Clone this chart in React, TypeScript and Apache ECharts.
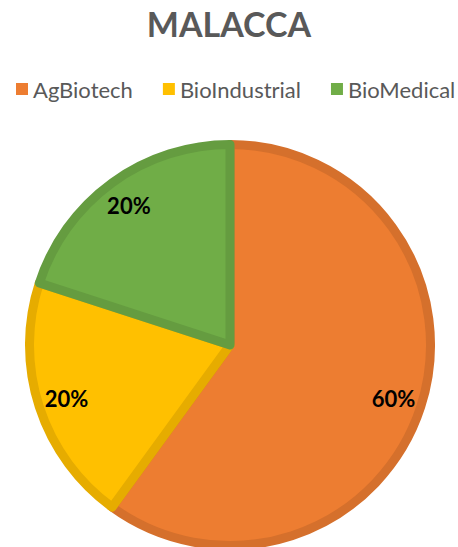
import React, { useEffect, useRef } from "react";
import * as echarts from "echarts";

const categories = ["AgBiotech", "BioIndustrial", "BioMedical"];
const values = [60, 20, 20];
const fillColors = ["#ED7D31", "#FFC000", "#70AD47"];
const borderColors = ["#D5702C", "#E6AC00", "#659C40"];
const titleText = "MALACCA";

export default function App() {
  const ref = useRef<HTMLDivElement>(null);
  useEffect(() => {
    if (!ref.current) return;
    const chart = echarts.init(ref.current, null, { renderer: "svg" });
    const data = categories.map((name, i) => ({
      name,
      value: values[i],
      itemStyle: { color: fillColors[i], borderColor: borderColors[i] },
    }));
    chart.setOption({
      animation: false,
      backgroundColor: "#ffffff",
      title: {
        text: titleText,
        left: "center",
        top: 1,
        textStyle: {
          fontFamily: "Lato",
          fontWeight: "bold",
          fontSize: 34,
          color: "#595959",
        },
      },
      legend: {
        data: categories.map((name, i) => ({
          name,
          itemStyle: { color: fillColors[i], borderWidth: 0 },
        })),
        top: 78,
        left: 16,
        width: 442,
        padding: 0,
        icon: "rect",
        itemWidth: 12,
        itemHeight: 12,
        itemGap: 30,
        textStyle: { fontFamily: "Lato", fontSize: 22, color: "#595959" },
        selectedMode: false,
      },
      series: [
        {
          type: "pie",
          center: [230, 345],
          radius: [0, 200.5],
          startAngle: 90,
          clockwise: true,
          silent: true,
          itemStyle: { borderWidth: 9 },
          label: { show: false },
          labelLine: { show: false },
          data,
        },
        {
          type: "pie",
          center: [230, 345],
          radius: [138, 200],
          startAngle: 90,
          clockwise: true,
          silent: true,
          itemStyle: { color: "transparent", borderWidth: 0 },
          label: {
            show: true,
            position: "inside",
            formatter: (p: any) => Math.round(p.percent) + "%",
            fontFamily: "Lato",
            fontWeight: "bold",
            fontSize: 22,
            color: "#000000",
          },
          labelLine: { show: false },
          data: categories.map((name, i) => ({ name, value: values[i] })),
        },
      ],
    });
    return () => chart.dispose();
  }, []);
  return (
    <div
      ref={ref}
      style={{ position: "fixed", left: 0, top: 0, width: 458, height: 547 }}
    />
  );
}
